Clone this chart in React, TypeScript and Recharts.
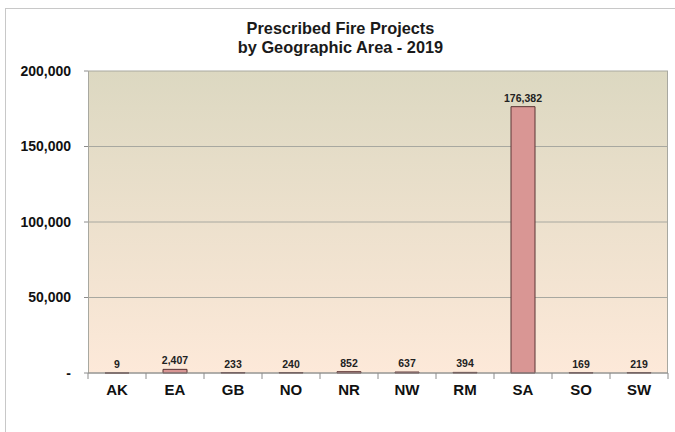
import { BarChart, Bar, XAxis, YAxis, CartesianGrid, LabelList } from "recharts";

const areas = ["AK", "EA", "GB", "NO", "NR", "NW", "RM", "SA", "SO", "SW"];
const projects = [9, 2407, 233, 240, 852, 637, 394, 176382, 169, 219];
const yTicks = [0, 50000, 100000, 150000, 200000];

const FONT = "'Liberation Sans', Arial, sans-serif";
const BAND = 58;

const data = areas.map((a, i) => ({ area: a, value: projects[i] }));

function AreaTick(props: any) {
  const { x, y, payload } = props;
  return (
    <g>
      <line x1={x - BAND / 2} y1={y - 8} x2={x - BAND / 2} y2={y - 2} stroke="#8c8c8c" />
      {payload.index === areas.length - 1 && (
        <line x1={x + BAND / 2} y1={y - 8} x2={x + BAND / 2} y2={y - 2} stroke="#8c8c8c" />
      )}
      <text x={x} y={y + 14} textAnchor="middle" fontFamily={FONT} fontWeight="bold" fontSize={15} fill="#111">
        {payload.value}
      </text>
    </g>
  );
}

export default function App() {
  return (
    <div style={{ position: "fixed", left: 0, top: 0, width: 675, height: 432, background: "#fff", overflow: "hidden" }}>
      <div
        style={{
          position: "absolute",
          left: 5,
          top: 8,
          width: 700,
          height: 440,
          border: "1px solid #c8c8c8",
          boxSizing: "border-box",
        }}
      />
      <div
        style={{
          position: "absolute",
          left: 3,
          top: 19,
          width: 675,
          textAlign: "center",
          fontFamily: FONT,
          fontWeight: "bold",
          fontSize: 17,
          lineHeight: "19px",
          transform: "scaleX(0.96)",
          color: "#1a1a1a",
        }}
      >
        Prescribed Fire Projects
        <br />
        by Geographic Area - 2019
      </div>
      <div style={{ position: "absolute", left: 0, top: 0 }}>
        <BarChart width={675} height={432} data={data} margin={{ top: 71, right: 7, bottom: 29, left: 0 }} barSize={24}>
          <defs>
            <linearGradient id="plotBg" x1="0" y1="0" x2="0" y2="1">
              <stop offset="0%" stopColor="#dcd8c1" />
              <stop offset="100%" stopColor="#fde9d9" />
            </linearGradient>
          </defs>
          <CartesianGrid
            stroke="#a8a8a0"
            fill="url(#plotBg)"
            fillOpacity={1}
            verticalPoints={[88.5, 667.5]}
          />
          <XAxis
            dataKey="area"
            axisLine={{ stroke: "#8c8c8c" }}
            tickLine={false}
            tick={<AreaTick />}
            height={30}
            interval={0}
          />
          <YAxis
            domain={[0, 200000]}
            ticks={yTicks}
            width={88}
            axisLine={false}
            tickLine={{ stroke: "#8c8c8c" }}
            tickSize={4}
            tickMargin={13}
            tickFormatter={(v: number) => (v === 0 ? "-" : v.toLocaleString("en-US"))}
            tick={{ fontFamily: FONT, fontWeight: "bold", fontSize: 14, fill: "#111" }}
          />
          <Bar dataKey="value" fill="#d99694" stroke="#5a3434" strokeWidth={1} isAnimationActive={false}>
            <LabelList
              dataKey="value"
              position="top"
              offset={5}
              formatter={(v: any) => Number(v).toLocaleString("en-US")}
              style={{ fontFamily: FONT, fontWeight: "bold", fontSize: 10.5, fill: "#222" }}
            />
          </Bar>
        </BarChart>
      </div>
    </div>
  );
}
